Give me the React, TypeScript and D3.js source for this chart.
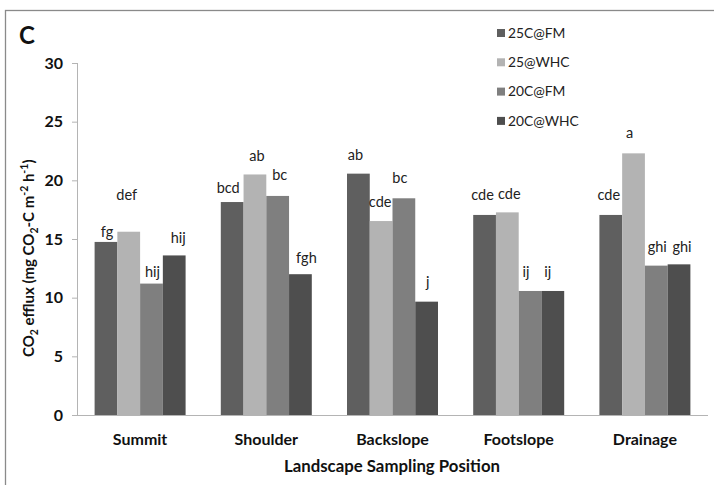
import React from "react";
import * as d3 from "d3";

const categories = ["Summit", "Shoulder", "Backslope", "Footslope", "Drainage"];
const seriesNames = ["25C@FM", "25@WHC", "20C@FM", "20C@WHC"];
const s25FM = [14.75, 18.15, 20.57, 17.05, 17.05];
const s25WHC = [15.62, 20.5, 16.53, 17.27, 22.3];
const s20FM = [11.2, 18.67, 18.47, 10.57, 12.73];
const s20WHC = [13.6, 12.0, 9.66, 10.57, 12.84];
const lab25FM = ["fg", "bcd", "ab", "cde", "cde"];
const lab25WHC = ["def", "ab", "cde", "cde", "a"];
const lab20FM = ["hij", "bc", "bc", "ij", "ghi"];
const lab20WHC = ["hij", "fgh", "j", "ij", "ghi"];
const yTicks = [0, 5, 10, 15, 20, 25, 30];

const colors = ["#5f5f5f", "#b3b3b3", "#7f7f7f", "#4e4e4e"];
// label lift above bar top (px) and small x nudges
const lift = [
  [10, 14, 19, 20, 20],
  [37, 19, 19, 18, 20],
  [12, 21, 20, 19, 19],
  [18, 16, 20, 19, 17],
];
const nudge = [
  [1, -4, -3, -2, -2],
  [-2, 2, -1, 2, -4],
  [1, 2, -4, -4, 1],
  [4, 6, 1, -5, 3],
];

const W = 714, H = 485;
const margin = { left: 77, right: 6, top: 63, bottom: 70 };
const font = "Lato, 'Open Sans', sans-serif";

export default function App() {
  const series = [s25FM, s25WHC, s20FM, s20WHC];
  const labels = [lab25FM, lab25WHC, lab20FM, lab20WHC];
  const x0 = d3.scaleBand().domain(categories).range([margin.left, W - margin.right]).paddingInner(0.279).paddingOuter(0.1395);
  const x1 = d3.scaleBand().domain(seriesNames).range([0, x0.bandwidth()]);
  const y = d3.scaleLinear().domain([0, 30]).range([H - margin.bottom, margin.top]);
  const axisColor = "#b4b4b4";
  return (
    <svg width={W} height={H} style={{ position: "absolute", left: 0, top: 0, background: "#fff" }} fontFamily={font}>
      <rect x={5.5} y={10.5} width={800} height={600} fill="none" stroke="#8a8a8a" strokeWidth={1.3} />
      <text x={19} y={44} fontSize={24} fontWeight="bold" fill="#111">C</text>
      {yTicks.map((t) => (
        <g key={t}>
          <line x1={72} x2={margin.left} y1={y(t) + 0.5} y2={y(t) + 0.5} stroke={axisColor} />
          <text x={63} y={y(t)} dy="0.35em" textAnchor="end" fontSize={16} fontWeight="bold" fill="#111">{t}</text>
        </g>
      ))}
      {series.map((vals, si) =>
        categories.map((c, ci) => (
          <rect key={si + "-" + ci} x={(x0(c) as number) + (x1(seriesNames[si]) as number)} y={y(vals[ci])}
            width={x1.bandwidth()} height={y(0) - y(vals[ci])} fill={colors[si]} />
        ))
      )}
      {series.map((vals, si) =>
        categories.map((c, ci) => (
          <text key={"l" + si + "-" + ci}
            x={(x0(c) as number) + (x1(seriesNames[si]) as number) + x1.bandwidth() / 2 + nudge[si][ci]}
            y={y(vals[ci]) - lift[si][ci]} dy="0.35em" textAnchor="middle" fontSize={14.5} fill="#222">
            {labels[si][ci]}
          </text>
        ))
      )}
      <line x1={margin.left + 0.5} x2={margin.left + 0.5} y1={y(30)} y2={y(0)} stroke={axisColor} />
      <line x1={margin.left} x2={W - margin.right} y1={y(0) + 0.5} y2={y(0) + 0.5} stroke={axisColor} />
      {categories.map((c) => (
        <text key={c} x={(x0(c) as number) + x0.bandwidth() / 2} y={445} textAnchor="middle" fontSize={16} fontWeight="bold" fill="#111">{c}</text>
      ))}
      <text x={392} y={472} textAnchor="middle" fontSize={16.8} fontWeight="bold" fill="#111">Landscape Sampling Position</text>
      <text transform={`translate(34,357) rotate(-90)`} textAnchor="start" fontSize={15} fontWeight="bold" fill="#111">
        CO<tspan fontSize={10.5} dy={4}>2</tspan><tspan dy={-4}> efflux (mg CO</tspan><tspan fontSize={10.5} dy={4}>2</tspan><tspan dy={-4}>-C m</tspan><tspan fontSize={10.5} dy={-6}>-2</tspan><tspan dy={6}> h</tspan><tspan fontSize={10.5} dy={-6}>-1</tspan><tspan dy={6}>)</tspan>
      </text>
      {seriesNames.map((n, i) => (
        <g key={n}>
          <rect x={497} y={29 + i * 29.3} width={8} height={8} fill={colors[i]} />
          <text x={508} y={33 + i * 29.3} dy="0.35em" fontSize={13.8} fill="#222">{n}</text>
        </g>
      ))}
    </svg>
  );
}
